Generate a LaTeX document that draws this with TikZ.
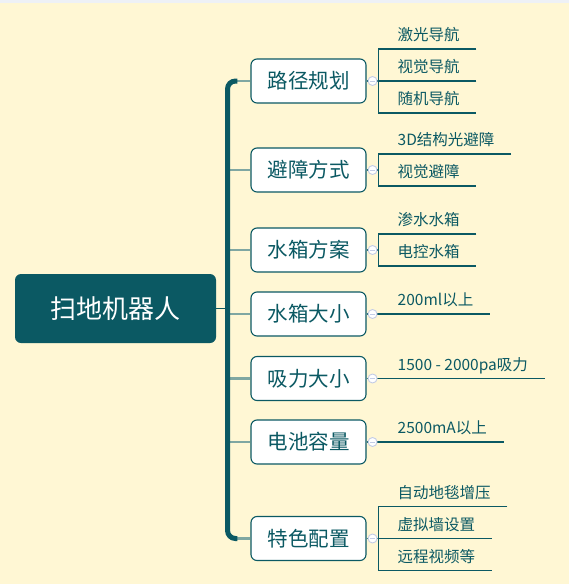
\documentclass[tikz,border=0pt]{standalone}
\usepackage{fontspec}
\setmainfont{Noto Sans CJK SC}
\usetikzlibrary{calc}
\definecolor{MapTeal}{HTML}{0B5963}
\definecolor{MapCream}{HTML}{FFF7D4}
\definecolor{MapSage}{HTML}{7FA7A2}
\definecolor{MapFold}{HTML}{C3CCE6}
\definecolor{MapStrip}{HTML}{EEF1F6}
\tikzset{
  root/.style={fill=MapTeal,rounded corners=6pt,minimum width=201pt,minimum height=69pt,text=white,font=\fontsize{26}{30}\selectfont},
  topic/.style={draw=MapTeal,fill=white,line width=1.1pt,rounded corners=6pt,minimum width=115pt,minimum height=44pt,text=MapTeal,font=\fontsize{20.5}{24}\selectfont},
  leaf/.style={anchor=south west,inner xsep=16.5pt,inner ysep=6pt,text height=12pt,text depth=2pt,text=MapTeal,font=\fontsize{15.5}{18}\selectfont},
  fold/.style={circle,draw=MapFold,fill=white,line width=0.9pt,minimum size=9pt,inner sep=0pt,
    path picture={\draw[MapFold,line width=0.9pt] ([xshift=-2.3pt]path picture bounding box.center) -- ([xshift=2.3pt]path picture bounding box.center);}},
  trunk/.style={MapTeal,line width=5pt,rounded corners=8pt},
  branch/.style={MapSage,line width=2.5pt},
  link/.style={MapTeal,line width=1.2pt}
}

\begin{document}
\begin{tikzpicture}[x=1pt,y=-1pt]
  \fill[MapCream] (0,0) rectangle (569,584);
  \fill[MapStrip] (0,0) rectangle (569,3);
  \useasboundingbox (0,0) rectangle (569,584);

  \node[root] (robot) at (115.5,308.5) {扫地机器人};
  \coordinate (spine) at (227.5,0);

  \node[topic] (path) at (308.5,81) {路径规划};
  \node[topic] (avoid) at (308.5,170) {避障方式};
  \node[topic] (tankplan) at (308.5,250) {水箱方案};
  \node[topic] (tanksize) at (308.5,314) {水箱大小};
  \node[topic] (suction) at (308.5,378.5) {吸力大小};
  \node[topic] (battery) at (308.5,442) {电池容量};
  \node[topic] (feature) at (308.5,538.5) {特色配置};

  % branches, then the trunk on top
  \draw[branch] ([xshift=2pt]spine |- path.west) -- (path.west);
  \draw[branch] ([xshift=2pt]spine |- avoid.west) -- (avoid.west);
  \draw[branch] ([xshift=2pt]spine |- tankplan.west) -- (tankplan.west);
  \draw[branch] ([xshift=2pt]spine |- tanksize.west) -- (tanksize.west);
  \draw[branch] ([xshift=2pt]spine |- suction.west) -- (suction.west);
  \draw[branch] ([xshift=2pt]spine |- battery.west) -- (battery.west);
  \draw[branch] ([xshift=2pt]spine |- feature.west) -- (feature.west);
  \draw[trunk] ([xshift=-13pt]path.west) -| (spine |- feature.west) -- ([xshift=-13pt]feature.west);
  \draw[link,line width=1pt] (robot.east) -- (spine |- robot.east);

  % leaves
  \node[leaf] (laser) at (381,49) {激光导航};
  \node[leaf] (visnav) at (381,81) {视觉导航};
  \node[leaf] (randnav) at (381,113) {随机导航};
  \node[leaf] (light3d) at (381,154) {3D结构光避障};
  \node[leaf] (visavoid) at (381,186) {视觉避障};
  \node[leaf] (seep) at (381,234) {渗水水箱};
  \node[leaf] (eltank) at (381,266) {电控水箱};
  \node[leaf] (vol) at (381,314) {200ml以上};
  \node[leaf] (pa) at (381,378.5) {1500 - 2000pa吸力};
  \node[leaf] (mah) at (381,442) {2500mA以上};
  \node[leaf] (carpet) at (381,506.5) {自动地毯增压};
  \node[leaf] (wall) at (381,538.5) {虚拟墙设置};
  \node[leaf] (remote) at (381,570.5) {远程视频等};

  \coordinate (j1) at ([xshift=12pt]path.east);
  \coordinate (j2) at ([xshift=12pt]avoid.east);
  \coordinate (j3) at ([xshift=12pt]tankplan.east);
  \coordinate (j7) at ([xshift=12pt]feature.east);

  \draw[link] (path.east) -- (j1);
  \draw[link] (laser.south east) -- (laser.south east -| j1) -- (randnav.south east -| j1) -- (randnav.south east);
  \draw[link] (visnav.south east) -- (visnav.south east -| j1);

  \draw[link] (avoid.east) -- (j2);
  \draw[link] (light3d.south east) -- (light3d.south east -| j2) -- (visavoid.south east -| j2) -- (visavoid.south east);

  \draw[link] (tankplan.east) -- (j3);
  \draw[link] (seep.south east) -- (seep.south east -| j3) -- (eltank.south east -| j3) -- (eltank.south east);

  \draw[link] (tanksize.east) -- (vol.south east);
  \draw[link] (suction.east) -- (pa.south east);
  \draw[link] (battery.east) -- (mah.south east);

  \draw[link] (feature.east) -- (j7);
  \draw[link] (carpet.south east) -- (carpet.south east -| j7) -- (remote.south east -| j7) -- (remote.south east);
  \draw[link] (wall.south east) -- (wall.south east -| j7);

  % fold markers
  \node[fold] (f1) at ([xshift=6pt]path.east) {};
  \node[fold] (f2) at ([xshift=6pt]avoid.east) {};
  \node[fold] (f3) at ([xshift=6pt]tankplan.east) {};
  \node[fold] (f4) at ([xshift=6pt]tanksize.east) {};
  \node[fold] (f5) at ([xshift=6pt]suction.east) {};
  \node[fold] (f6) at ([xshift=6pt]battery.east) {};
  \node[fold] (f7) at ([xshift=6pt]feature.east) {};
\end{tikzpicture}
\end{document}
